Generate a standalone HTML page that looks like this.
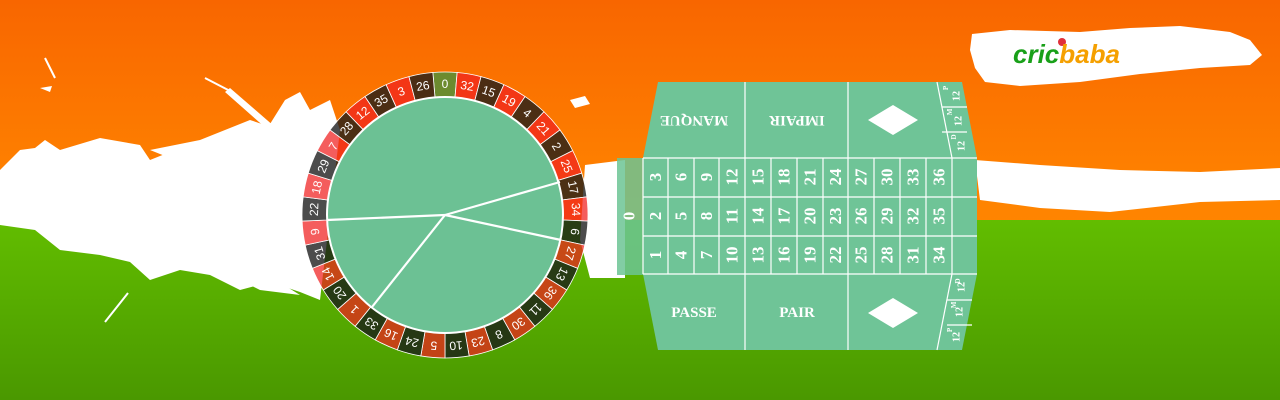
<!DOCTYPE html>
<html><head><meta charset="utf-8">
<style>
html,body{margin:0;padding:0;width:1280px;height:400px;overflow:hidden}
svg{display:block}
</style></head>
<body>
<svg id="s" width="1280" height="400" viewBox="0 0 1280 400" xmlns="http://www.w3.org/2000/svg">
<defs>
<linearGradient id="og" x1="0" y1="0" x2="0" y2="1">
<stop offset="0" stop-color="#f86600"/><stop offset="0.5" stop-color="#ff8400"/><stop offset="1" stop-color="#ff8a00"/></linearGradient>
<linearGradient id="gg" x1="0" y1="0" x2="0" y2="1">
<stop offset="0" stop-color="#62bd00"/><stop offset="1" stop-color="#4a9800"/></linearGradient>
</defs>
<rect width="1280" height="400" fill="url(#og)"/>
<rect y="220" width="1280" height="180" fill="url(#gg)"/>
<path fill="#fff" d="M0,170 L20,150 L35,148 L45,140 L60,150 L100,138 L140,145 L150,160 L175,150 L200,160 L230,150 L260,140 L285,100 L300,92 L310,110 L330,100 L340,130 L320,300 L300,292 L270,282 L240,290 L210,275 L180,270 L150,280 L130,262 L100,255 L60,250 L35,230 L0,225 Z"/>
<path fill="#fff" d="M150,150 L200,140 L250,120 L280,130 L270,160 L200,170 Z M120,250 L200,260 L260,290 L300,295 L260,270 Z"/>
<path fill="#fff" d="M40,88 L52,86 L50,92 Z M230,88 L290,140 L285,145 L225,92 Z"/>
<path fill="#fff" stroke="#fff" stroke-width="2" d="M205,78 L232,92 M105,322 L128,293 M45,58 L55,78"/>
<path fill="#fff" d="M585,165 L625,160 L625,278 L590,278 L580,240 Z"/>
<path fill="#fff" d="M975,160 L1040,165 L1120,170 L1200,172 L1280,168 L1280,200 L1200,202 L1110,212 L1040,208 L980,200 Z"/>
<path fill="#fff" d="M570,100 L585,96 L590,104 L575,108 Z"/>
<path fill="#fff" d="M972,34 L1010,30 L1080,32 L1130,28 L1180,26 L1230,32 L1250,40 L1262,55 L1250,65 L1200,68 L1140,74 L1080,82 L1020,86 L985,82 L975,68 L970,50 Z"/>
<circle cx="1062" cy="42" r="4" fill="#e0303a"/>
<text x="1013" y="63" font-family="Liberation Sans, sans-serif" font-weight="bold" font-style="italic" font-size="26" fill="#19a019">cric<tspan fill="#f5a000">baba</tspan></text>
<g id="wheel"></g>
<g id="table"></g>
</svg>
<script>
var NS="http://www.w3.org/2000/svg";
function el(t,a,p,txt){var e=document.createElementNS(NS,t);for(var k in a)e.setAttribute(k,a[k]);if(txt!==undefined)e.textContent=txt;p.appendChild(e);return e;}
var W=document.getElementById('wheel');
var cx=445,cy=215,R=143,r=118;
var nums=[0,32,15,19,4,21,2,25,17,34,6,27,13,36,11,30,8,23,10,5,24,16,33,1,20,14,31,9,22,18,29,7,28,12,35,3,26];
var reds=[1,3,5,7,9,12,14,16,18,19,21,23,25,27,30,32,34,36];
var n=37;
function pt(rr,a){var t=a*Math.PI/180;return [cx+rr*Math.cos(t),cy+rr*Math.sin(t)];}
for(var i=0;i<n;i++){
 var a0=(i-0.5)*360/n-90, a1=(i+0.5)*360/n-90;
 var p1=pt(R,a0),p2=pt(R,a1),p3=pt(r,a1),p4=pt(r,a0);
 var v=nums[i];
 var col=v===0?'rgba(100,140,50,0.95)':(reds.indexOf(v)>=0?'rgba(240,30,30,0.72)':'rgba(25,25,25,0.78)');
 el('path',{d:'M'+p1+' A'+R+','+R+' 0 0 1 '+p2+' L'+p3+' A'+r+','+r+' 0 0 0 '+p4+' Z',fill:col,stroke:'#fff','stroke-width':'0.8'},W);
 var ang=i*360/n;
 var c=pt(131,ang-90);
 el('text',{x:0,y:0,transform:'translate('+c[0]+','+c[1]+') rotate('+ang+')','text-anchor':'middle','dominant-baseline':'central','font-family':'Liberation Sans, sans-serif','font-size':'12',fill:'#fff'},W,String(v));
}
el('circle',{cx:cx,cy:cy,r:r,fill:'#6cc194',stroke:'#fff','stroke-width':'2'},W);
[[560,182],[327,220],[372,307],[561,240]].forEach(function(e){el('line',{x1:cx,y1:cy,x2:e[0],y2:e[1],stroke:'#fff','stroke-width':'2.2'},W);});

var T=document.getElementById('table');
el('rect',{x:617,y:158,width:27,height:117,fill:'rgba(108,196,148,0.85)'},T);
el('path',{d:'M658,82 L962,82 L977,158 L977,274 L962,350 L658,350 L643,274 L643,158 Z',fill:'#6fc497'},T);
var S={stroke:'#fff','stroke-width':'1.2',fill:'none'};
var xs=[643,668,694,719,745,771,797,823,848,874,900,926,952];
[158,197,236,274].forEach(function(y){el('line',Object.assign({x1:643,y1:y,x2:977,y2:y},S),T);});
xs.forEach(function(x){el('line',Object.assign({x1:x,y1:158,x2:x,y2:274},S),T);});
[[745,82,745,158],[848,82,848,158],[745,274,745,350],[848,274,848,350],[937,82,952,158],[952,274,937,350]].forEach(function(l){el('line',Object.assign({x1:l[0],y1:l[1],x2:l[2],y2:l[3]},S),T);});
[107,132].forEach(function(y){el('line',Object.assign({x1:942,y1:y,x2:967,y2:y},S),T);});
[300,325].forEach(function(y){el('line',Object.assign({x1:947,y1:y,x2:972,y2:y},S),T);});
el('path',{d:'M868,120 L893,105 L918,120 L893,135 Z',fill:'#fff'},T);
el('path',{d:'M868,313 L893,298 L918,313 L893,328 Z',fill:'#fff'},T);
var F={'font-family':'Liberation Serif, serif','font-weight':'bold',fill:'#fff','text-anchor':'middle','dominant-baseline':'central'};
function tx(x,y,rot,s,sz){var a=Object.assign({},F);a.transform='translate('+x+','+y+') rotate('+rot+')';a['font-size']=sz;el('text',a,T,s);}
for(var c=0;c<12;c++){
 var x=(xs[c]+xs[c+1])/2;
 tx(x,177,-90,String(3*c+3),17);tx(x,216,-90,String(3*c+2),17);tx(x,255,-90,String(3*c+1),17);
}
tx(629,216,-90,'0',17);
tx(694,120,180,'MANQUE',15);tx(797,120,180,'IMPAIR',15);
tx(694,313,0,'PASSE',15);tx(797,313,0,'PAIR',15);
tx(957,96,-90,'12',10);tx(959,121,-90,'12',10);tx(962,146,-90,'12',10);
tx(946,88,-90,'P',7);tx(950,112,-90,'M',7);tx(954,137,-90,'D',7);
tx(962,287,-90,'12',10);tx(960,312,-90,'12',10);tx(957,337,-90,'12',10);
tx(958,281,-90,'D',7);tx(954,305,-90,'M',7);tx(950,330,-90,'P',7);
</script>
</body></html>
